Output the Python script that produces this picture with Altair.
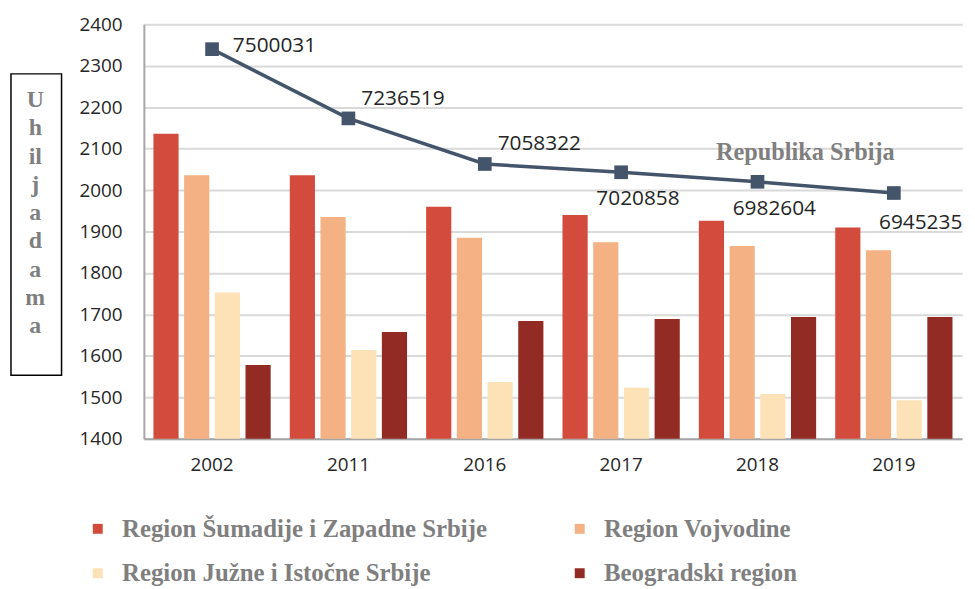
import altair as alt
import pandas as pd

years = ["2002", "2011", "2016", "2017", "2018", "2019"]
regions = ["Region Šumadije i Zapadne Srbije", "Region Vojvodine",
           "Region Južne i Istočne Srbije", "Beogradski region"]
sumadija = [2136, 2036, 1960, 1940, 1926, 1910]
vojvodina = [2036, 1935, 1885, 1874, 1865, 1855]
juzna = [1753, 1614, 1537, 1523, 1508, 1493]
beograd = [1578, 1658, 1684, 1689, 1694, 1694]
srbija_line = [2340, 2173, 2063, 2043, 2020, 1993]
srbija_pop = ["7500031", "7236519", "7058322", "7020858", "6982604", "6945235"]
colors = ["#D34B3C", "#F4B183", "#FDE1B7", "#922B23"]
y_title = ["U", "h", "il", "j", "a", "d", "a", "m", "a"]

rows = []
for series, name in zip([sumadija, vojvodina, juzna, beograd], regions):
    for yr, v in zip(years, series):
        rows.append({"year": yr, "region": name, "value": v})
bars_df = pd.DataFrame(rows)
line_df = pd.DataFrame({"year": years, "value": srbija_line, "label": srbija_pop})

W, H = 825, 418
GRAY = "#7F7F7F"

xenc = alt.X("year:N", sort=years, title=None,
             scale=alt.Scale(paddingInner=0.14, paddingOuter=0.07),
             axis=alt.Axis(labelAngle=0, labelFont="Open Sans", labelFontSize=19,
                           labelColor="#262626", labelPadding=17, ticks=False,
                           domainColor="#A6A6A6", domainWidth=2, grid=False))
yscale = alt.Scale(domain=[1400, 2400], nice=False, zero=False)
yaxis = alt.Axis(values=list(range(1400, 2401, 100)), format="d", labelFont="Open Sans",
                 labelFontSize=19, labelColor="#262626", labelPadding=22,
                 ticks=False, domainColor="#A6A6A6", domainWidth=2,
                 gridColor="#D9D9D9", gridWidth=2,
                 title=y_title, titleAngle=0, titleX=-110, titleY=83,
                 titleFont="Liberation Serif", titleFontSize=24,
                 titleFontWeight="bold", titleColor=GRAY, titleLineHeight=28.5,
                 titleAlign="center", titleBaseline="alphabetic")

bars = alt.Chart(bars_df).mark_bar().encode(
    x=xenc,
    xOffset=alt.XOffset("region:N", sort=regions,
                        scale=alt.Scale(paddingInner=0.18, paddingOuter=0)),
    y=alt.Y("value:Q", scale=yscale, axis=yaxis),
    y2=alt.datum(1400),
    color=alt.Color("region:N", sort=regions,
                    scale=alt.Scale(domain=regions, range=colors),
                    legend=alt.Legend(title=None, orient="none", legendX=-59, legendY=496,
                                      direction="horizontal",
                                      columns=2, columnPadding=80, rowPadding=19,
                                      symbolType="square", symbolSize=100,
                                      symbolStrokeWidth=0, labelOffset=12,
                                      labelFont="Liberation Serif", labelFontSize=25,
                                      labelFontWeight="bold", labelColor=GRAY,
                                      labelLimit=600, padding=0)),
)

base_line = alt.Chart(line_df).encode(
    x=alt.X("year:N", sort=years),
    y=alt.Y("value:Q", scale=yscale),
)
line = base_line.mark_line(color="#44546A", strokeWidth=3.5)
pts = base_line.mark_point(shape="square", filled=True, size=190, color="#44546A", opacity=1)

def lab(yrs, dx, dy):
    return base_line.mark_text(align="left", baseline="middle", dx=dx, dy=dy,
                               font="Open Sans", fontSize=21, color="#262626").encode(
        text="label:N").transform_filter(alt.FieldOneOfPredicate(field="year", oneOf=yrs))

labels = [lab(["2002"], 21, -3), lab(["2011", "2016"], 13, -20),
          lab(["2017", "2018"], -25, 27), lab(["2019"], -15, 30)]

rs = alt.Chart(pd.DataFrame({"t": ["Republika Srbija"]})).mark_text(
    align="center", baseline="alphabetic", font="Liberation Serif", fontSize=24.5,
    fontWeight="bold", color=GRAY).encode(text="t:N", x=alt.value(667), y=alt.value(137))

box = alt.Chart(pd.DataFrame({"a": [0]})).mark_rect(
    fill=None, stroke="#000000", strokeWidth=1.5, filled=False).encode(
    x=alt.value(-134), x2=alt.value(-83), y=alt.value(50), y2=alt.value(354))

chart = alt.layer(bars, line, pts, *labels, rs, box).properties(
    width=W, height=H,
    autosize=alt.AutoSizeParams(type="none"),
    padding={"left": 137, "top": 14, "right": 5, "bottom": 149},
).configure_view(stroke=None)

chart.save("out.html", embed_options={"renderer": "svg", "actions": False})
